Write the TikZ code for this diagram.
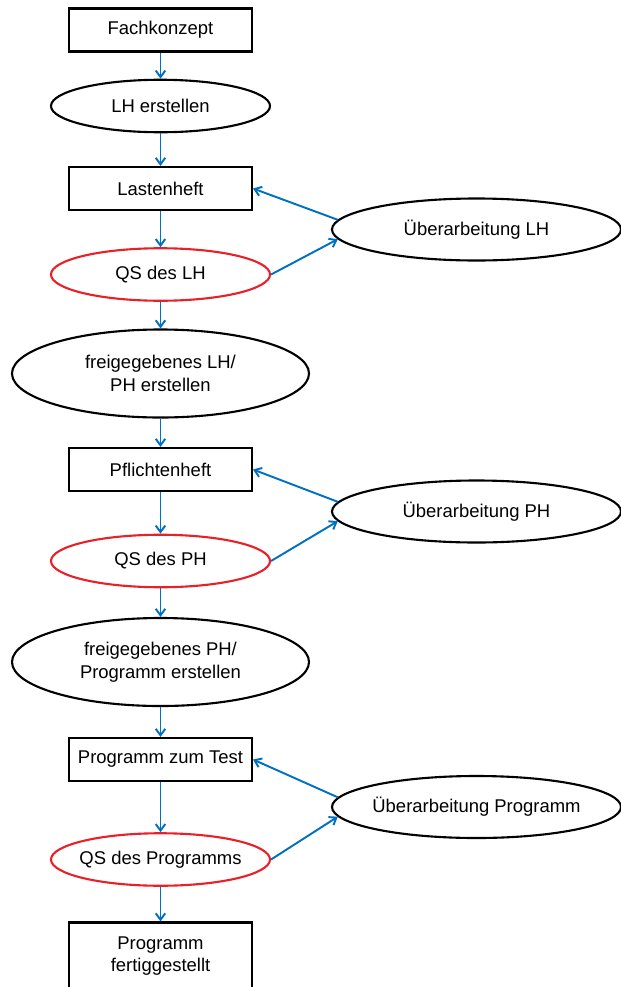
\documentclass[tikz,border=0pt]{standalone}
\usepackage{fontspec}
\setmainfont{Liberation Sans}
\usetikzlibrary{shapes.geometric,arrows.meta}
\definecolor{flowblue}{RGB}{0,112,192}
\definecolor{qsred}{RGB}{232,32,40}

\begin{document}
\begin{tikzpicture}[
    every node/.style={font=\fontsize{10.5}{13}\selectfont},
    docbox/.style={draw, rectangle, line width=1.2pt, minimum width=3.66cm, minimum height=0.86cm, align=center, inner sep=1pt},
    task/.style={draw, ellipse, line width=1.2pt, minimum width=4.38cm, minimum height=1.05cm, align=center, inner xsep=-1mm, inner ysep=0pt},
    qscheck/.style={task, draw=qsred},
    release/.style={task, minimum width=5.94cm, minimum height=1.76cm},
    rework/.style={task, minimum width=5.78cm, minimum height=1.24cm},
    flow/.style={-{Straight Barb[length=1.3mm, width=1.9mm]}, line width=1.1pt, flowblue}
  ]
    \useasboundingbox (0,0) rectangle (12.42,-19.74);

    % Lastenheft phase
    \node[docbox] (fach) at (3.21,-0.60) {Fachkonzept};
    \node[task] (lherst) at (3.21,-2.12) {LH erstellen};
    \node[docbox] (lh) at (3.21,-3.77) {Lastenheft};
    \node[qscheck] (qslh) at (3.21,-5.49) {QS des LH};
    \node[rework] (uelh) at (9.53,-4.59) {Überarbeitung LH};

    % Pflichtenheft phase
    \node[release] (frlh) at (3.21,-7.47) {freigegebenes LH/\\PH erstellen};
    \node[docbox] (ph) at (3.21,-9.39) {Pflichtenheft};
    \node[qscheck] (qsph) at (3.21,-11.22) {QS des PH};
    \node[rework] (ueph) at (9.53,-10.23) {Überarbeitung PH};

    % Programm phase
    \node[release] (frph) at (3.21,-13.24) {freigegebenes PH/\\Programm erstellen};
    \node[docbox] (test) at (3.21,-15.19) {Programm zum Test};
    \node[qscheck] (qsprog) at (3.21,-17.19) {QS des Programms};
    \node[rework] (ueprog) at (9.53,-16.14) {Überarbeitung Programm};
    \node[docbox, minimum height=1.34cm] (fertig) at (3.21,-19.12) {Programm\\fertiggestellt};

    % Main flow
    \draw[flow] (fach) -- (lherst);
    \draw[flow] (lherst) -- (lh);
    \draw[flow] (lh) -- (qslh);
    \draw[flow] (qslh) -- (frlh);
    \draw[flow] (frlh) -- (ph);
    \draw[flow] (ph) -- (qsph);
    \draw[flow] (qsph) -- (frph);
    \draw[flow] (frph) -- (test);
    \draw[flow] (test) -- (qsprog);
    \draw[flow] (qsprog) -- (fertig);

    % Rework loops
    \draw[flow] (qslh.east) -- (uelh.184);
    \draw[flow] (uelh.176) -- (lh.east);
    \draw[flow] (qsph.east) -- (ueph.184);
    \draw[flow] (ueph.176) -- (ph.east);
    \draw[flow] (qsprog.east) -- (ueprog.184);
    \draw[flow] (ueprog.176) -- (test.east);
\end{tikzpicture}
\end{document}
